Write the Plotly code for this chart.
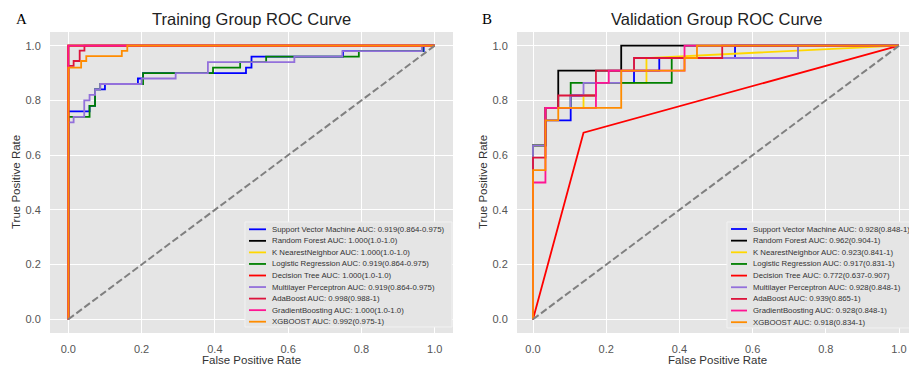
import plotly.graph_objects as go

W, H = 909, 370

# ---------------- data ----------------
model_names = ["Support Vector Machine", "Random Forest", "K NearestNeighbor",
               "Logistic Regression", "Decision Tree", "Multilayer Perceptron",
               "AdaBoost", "GradientBoosting", "XGBOOST"]
model_colors = ["blue", "black", "gold", "green", "red", "mediumpurple",
                "crimson", "deeppink", "darkorange"]
train_auc_labels = ["0.919(0.864-0.975)", "1.000(1.0-1.0)", "1.000(1.0-1.0)",
                    "0.919(0.864-0.975)", "1.000(1.0-1.0)", "0.919(0.864-0.975)",
                    "0.998(0.988-1)", "1.000(1.0-1.0)", "0.992(0.975-1)"]
val_auc_labels = ["0.928(0.848-1)", "0.962(0.904-1)", "0.923(0.841-1)",
                  "0.917(0.831-1)", "0.772(0.637-0.907)", "0.928(0.848-1)",
                  "0.939(0.865-1)", "0.928(0.848-1)", "0.918(0.834-1)"]
axis_ticks = [0.0, 0.2, 0.4, 0.6, 0.8, 1.0]

# Training group ROC curves
train_svm_fpr = [0, 0, 0.058, 0.058, 0.073, 0.073, 0.10, 0.10, 0.19, 0.19, 0.204, 0.204, 0.485, 0.485, 0.50, 0.50, 0.75, 0.75, 0.97, 0.97, 1]
train_svm_tpr = [0, 0.76, 0.76, 0.78, 0.78, 0.84, 0.84, 0.86, 0.86, 0.88, 0.88, 0.90, 0.90, 0.92, 0.92, 0.96, 0.96, 0.98, 0.98, 1, 1]
train_rf_fpr = [0, 0, 1]
train_rf_tpr = [0, 1, 1]
train_knn_fpr = [0, 0, 1]
train_knn_tpr = [0, 1, 1]
train_lr_fpr = [0, 0, 0.058, 0.058, 0.073, 0.073, 0.087, 0.087, 0.204, 0.204, 0.395, 0.395, 0.469, 0.469, 0.54, 0.54, 0.793, 0.793, 0.967, 0.967, 1]
train_lr_tpr = [0, 0.74, 0.74, 0.78, 0.78, 0.84, 0.84, 0.86, 0.86, 0.90, 0.90, 0.92, 0.92, 0.94, 0.94, 0.96, 0.96, 0.98, 0.98, 1, 1]
train_dt_fpr = [0, 0, 1]
train_dt_tpr = [0, 1, 1]
train_mlp_fpr = [0, 0, 0.0145, 0.0145, 0.0435, 0.0435, 0.058, 0.058, 0.073, 0.073, 0.087, 0.087, 0.2, 0.2, 0.293, 0.293, 0.381, 0.381, 0.617, 0.617, 0.748, 0.748, 0.965, 0.965, 1]
train_mlp_tpr = [0, 0.72, 0.72, 0.74, 0.74, 0.80, 0.80, 0.82, 0.82, 0.84, 0.84, 0.86, 0.86, 0.88, 0.88, 0.90, 0.90, 0.94, 0.94, 0.96, 0.96, 0.98, 0.98, 1, 1]
train_ada_fpr = [0, 0, 0.0145, 0.0145, 0.031, 0.031, 0.044, 0.044, 1]
train_ada_tpr = [0, 0.926, 0.926, 0.944, 0.944, 0.982, 0.982, 1, 1]
train_gb_fpr = [0, 0, 1]
train_gb_tpr = [0, 1, 1]
train_xgb_fpr = [0, 0, 0.035, 0.035, 0.049, 0.049, 0.146, 0.146, 0.161, 0.161, 1]
train_xgb_tpr = [0, 0.92, 0.92, 0.944, 0.944, 0.962, 0.962, 0.981, 0.981, 1, 1]

# Validation group ROC curves
val_svm_fpr = [0, 0, 0.034, 0.034, 0.103, 0.103, 0.172, 0.172, 0.276, 0.276, 0.345, 0.345, 0.552, 0.552, 1]
val_svm_tpr = [0, 0.636, 0.636, 0.727, 0.727, 0.818, 0.818, 0.864, 0.864, 0.909, 0.909, 0.955, 0.955, 1, 1]
val_rf_fpr = [0, 0, 0.034, 0.034, 0.069, 0.069, 0.241, 0.241, 1]
val_rf_tpr = [0, 0.636, 0.636, 0.773, 0.773, 0.909, 0.909, 1, 1]
val_knn_fpr = [0, 0, 0.034, 0.034, 0.138, 0.138, 0.172, 0.172, 0.310, 0.310, 1]
val_knn_tpr = [0, 0.636, 0.636, 0.773, 0.773, 0.818, 0.818, 0.864, 0.864, 0.955, 1]
val_lr_fpr = [0, 0, 0.034, 0.034, 0.103, 0.103, 0.379, 0.379, 0.724, 0.724, 1]
val_lr_tpr = [0, 0.636, 0.636, 0.773, 0.773, 0.864, 0.864, 0.955, 0.955, 1, 1]
val_dt_fpr = [0, 0.138, 1]
val_dt_tpr = [0, 0.682, 1]
val_mlp_fpr = [0, 0, 0.034, 0.034, 0.103, 0.103, 0.138, 0.138, 0.241, 0.241, 0.276, 0.276, 0.724, 0.724, 1]
val_mlp_tpr = [0, 0.636, 0.636, 0.773, 0.773, 0.818, 0.818, 0.864, 0.864, 0.909, 0.909, 0.955, 0.955, 1, 1]
val_ada_fpr = [0, 0, 0.034, 0.034, 0.069, 0.069, 0.172, 0.172, 0.276, 0.276, 0.517, 0.517, 1]
val_ada_tpr = [0, 0.591, 0.591, 0.773, 0.773, 0.818, 0.818, 0.909, 0.909, 0.955, 0.955, 1, 1]
val_gb_fpr = [0, 0, 0.034, 0.034, 0.172, 0.172, 0.207, 0.207, 0.414, 0.414, 1]
val_gb_tpr = [0, 0.500, 0.500, 0.773, 0.773, 0.864, 0.864, 0.909, 0.909, 1, 1]
val_xgb_fpr = [0, 0, 0.034, 0.034, 0.069, 0.069, 0.241, 0.241, 0.414, 0.414, 0.448, 0.448, 1]
val_xgb_tpr = [0, 0.545, 0.545, 0.727, 0.727, 0.773, 0.773, 0.909, 0.909, 0.955, 0.955, 1, 1]

chance_x = [0, 1]
chance_y = [0, 1]

train_fprs = [train_svm_fpr, train_rf_fpr, train_knn_fpr, train_lr_fpr, train_dt_fpr,
              train_mlp_fpr, train_ada_fpr, train_gb_fpr, train_xgb_fpr]
train_tprs = [train_svm_tpr, train_rf_tpr, train_knn_tpr, train_lr_tpr, train_dt_tpr,
              train_mlp_tpr, train_ada_tpr, train_gb_tpr, train_xgb_tpr]
val_fprs = [val_svm_fpr, val_rf_fpr, val_knn_fpr, val_lr_fpr, val_dt_fpr,
            val_mlp_fpr, val_ada_fpr, val_gb_fpr, val_xgb_fpr]
val_tprs = [val_svm_tpr, val_rf_tpr, val_knn_tpr, val_lr_tpr, val_dt_tpr,
            val_mlp_tpr, val_ada_tpr, val_gb_tpr, val_xgb_tpr]

# ---------------- figure ----------------
FONT = "Liberation Sans, Arial, sans-serif"
BG = "#E5E5E5"


def px(x):
    return x / W


def py(y):
    return 1 - y / H


fig = go.Figure()

for xa, ya, fprs, tprs in [("x", "y", train_fprs, train_tprs),
                           ("x2", "y2", val_fprs, val_tprs)]:
    for name, color, fx, ty in zip(model_names, model_colors, fprs, tprs):
        fig.add_trace(go.Scatter(x=fx, y=ty, mode="lines", name=name,
                                 line=dict(color=color, width=1.8),
                                 xaxis=xa, yaxis=ya, showlegend=False,
                                 hoverinfo="skip"))
    fig.add_trace(go.Scatter(x=chance_x, y=chance_y, mode="lines",
                             line=dict(color="gray", width=2, dash="7px,3px"),
                             xaxis=xa, yaxis=ya, showlegend=False,
                             hoverinfo="skip"))

axis_common = dict(
    showgrid=True, gridcolor="white", gridwidth=1.3, zeroline=False,
    showline=False, tickvals=axis_ticks, tickformat=".1f",
    ticks="outside", ticklen=6, tickcolor="rgba(0,0,0,0)",
    tickfont=dict(family=FONT, size=11, color="#555555"),
    fixedrange=True,
)

y_dom = [py(333), py(32)]
fig.update_layout(
    width=W, height=H,
    margin=dict(l=0, r=0, t=0, b=0),
    paper_bgcolor="white", plot_bgcolor=BG,
    showlegend=False,
    xaxis=dict(domain=[px(50), px(453)], range=[-0.05, 1.05], anchor="y", **axis_common),
    yaxis=dict(domain=y_dom, range=[-0.05, 1.05], anchor="x", **axis_common),
    xaxis2=dict(domain=[px(517), 1.0], range=[-16 / 366, 376 / 366], anchor="y2", **axis_common),
    yaxis2=dict(domain=y_dom, range=[-0.05, 1.05], anchor="x2", **axis_common),
)

annotations = []
shapes = []

# titles, panel letters, axis titles
for cx, letter_x, letter, title in [(251.5, 21, "A", "Training Group ROC Curve"),
                                    (717, 487, "B", "Validation Group ROC Curve")]:
    annotations.append(dict(x=px(cx), y=py(19), xref="paper", yref="paper",
                            text=title, showarrow=False, xanchor="center", yanchor="middle",
                            font=dict(family=FONT, size=16.5, color="#222222")))
    annotations.append(dict(x=px(letter_x), y=py(19), xref="paper", yref="paper",
                            text=letter, showarrow=False, xanchor="center", yanchor="middle",
                            font=dict(family="Liberation Serif, Times New Roman, serif", size=15, color="black")))

for cx in [251.5, 717]:
    annotations.append(dict(x=px(cx), y=py(360), xref="paper", yref="paper",
                            text="False Positive Rate", showarrow=False,
                            xanchor="center", yanchor="middle",
                            font=dict(family=FONT, size=11.5, color="#333333")))
for cx in [16, 483]:
    annotations.append(dict(x=px(cx), y=py(182), xref="paper", yref="paper",
                            text="True Positive Rate", showarrow=False, textangle=-90,
                            xanchor="center", yanchor="middle",
                            font=dict(family=FONT, size=11.5, color="#333333")))

# custom compact legends (matplotlib-like)
legend_specs = [
    dict(box=(245, 222, 452, 327), lx=(249, 266), tx=270, y0=229.3, dy=11.55, labels=train_auc_labels),
    dict(box=(727, 222, 930, 328), lx=(731, 747), tx=751, y0=229.0, dy=11.65, labels=val_auc_labels),
]
for spec in legend_specs:
    x0, y0, x1, y1 = spec["box"]
    shapes.append(dict(type="rect", xref="paper", yref="paper",
                       x0=px(x0), x1=px(x1), y0=py(y1), y1=py(y0),
                       fillcolor=BG, line=dict(color="#F2F2F2", width=1), layer="above"))
    for k, (name, color, auc) in enumerate(zip(model_names, model_colors, spec["labels"])):
        yy = spec["y0"] + k * spec["dy"]
        shapes.append(dict(type="line", xref="paper", yref="paper",
                           x0=px(spec["lx"][0]), x1=px(spec["lx"][1]), y0=py(yy), y1=py(yy),
                           line=dict(color=color, width=1.8), layer="above"))
        annotations.append(dict(x=px(spec["tx"]), y=py(yy), xref="paper", yref="paper",
                                text=f"{name} AUC: {auc}", showarrow=False,
                                xanchor="left", yanchor="middle",
                                font=dict(family=FONT, size=7.8, color="#333333")))

fig.update_layout(annotations=annotations, shapes=shapes)

fig.write_html("out.html")
